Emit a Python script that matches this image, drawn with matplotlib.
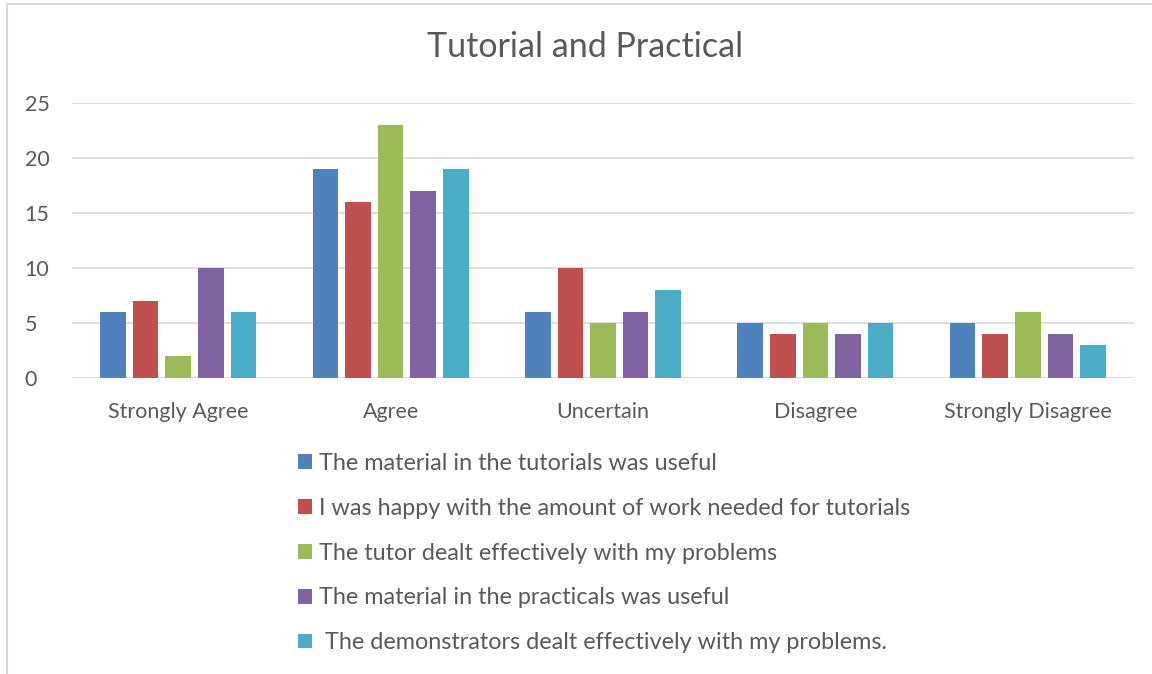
import numpy as np
import matplotlib.pyplot as plt
from matplotlib.patches import Rectangle

categories = ['Strongly Agree', 'Agree', 'Uncertain', 'Disagree', 'Strongly Disagree']
series_names = [
    'The material in the tutorials was useful',
    'I was happy with the amount of work needed for tutorials',
    'The tutor dealt effectively with my problems',
    'The material in the practicals was useful',
    ' The demonstrators dealt effectively with my problems.',
]
tutorial_useful = [6, 19, 6, 5, 5]
tutorial_work = [7, 16, 10, 4, 4]
tutor_effective = [2, 23, 5, 5, 6]
practical_useful = [10, 17, 6, 4, 4]
demonstrators = [6, 19, 8, 5, 3]
colors = ['#4F81BD', '#C0504D', '#9BBB59', '#8064A2', '#4BACC6']

plt.rcParams['font.family'] = ['Lato', 'DejaVu Sans']
W, H = 1152, 674
fig = plt.figure(figsize=(W / 100, H / 100), dpi=100)

# outer chart frame (top and left edges visible)
fig.add_artist(Rectangle((7 / W, -0.1), 1.2, 1 - 4 / H + 0.1, transform=fig.transFigure,
                         fill=False, edgecolor='#D9D9D9', linewidth=1.5))

ax = fig.add_axes([72 / W, 1 - 378 / H, (1134 - 72) / W, (378 - 103) / H])
x = np.arange(len(categories))
values = [tutorial_useful, tutorial_work, tutor_effective, practical_useful, demonstrators]
width = 0.12
step = 0.1535
for i, vals in enumerate(values):
    ax.bar(x + (i - 2) * step, vals, width, color=colors[i], label=series_names[i], zorder=3)

ax.set_xlim(-0.5, 4.5)
ax.set_ylim(0, 25)
ax.set_yticks(range(0, 26, 5))
ax.set_xticks(x)
ax.set_xticklabels(categories)
for s in ax.spines.values():
    s.set_visible(False)
ax.grid(axis='y', color='#D9D9D9', linewidth=1.2, zorder=0)
ax.tick_params(length=0, labelsize=15.5, colors='#595959')
ax.tick_params(axis='y', pad=34)
for lab in ax.get_yticklabels():
    lab.set_horizontalalignment('left')
ax.tick_params(axis='x', pad=17)

fig.text(585 / W, 1 - 47 / H, 'Tutorial and Practical', ha='center', va='center',
         fontsize=24.5, color='#595959')

leg = fig.legend(loc='upper left', bbox_to_anchor=(298 / W, 1 - 453 / H), frameon=False,
                 fontsize=16.8, handlelength=0.6, handleheight=0.6, borderpad=0,
                 borderaxespad=0, handletextpad=0.3, labelspacing=1.02)
for t in leg.get_texts():
    t.set_color('#595959')

fig.savefig('out.png', dpi=100)
